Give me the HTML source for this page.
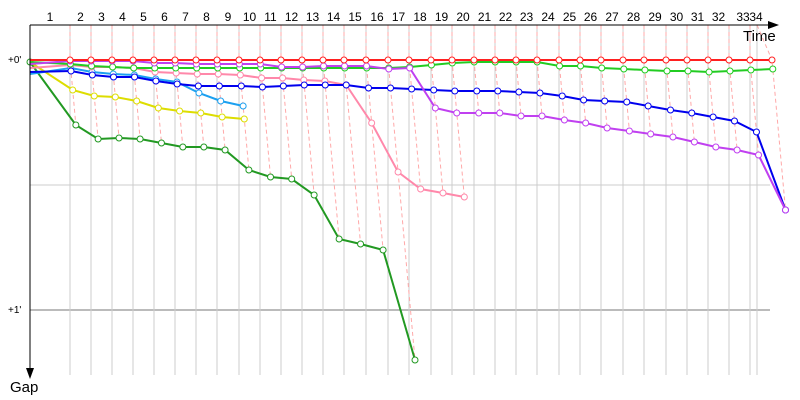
<!DOCTYPE html>
<html><head><meta charset="utf-8"><style>
html,body{margin:0;padding:0;background:#fff;}
svg{display:block;font-family:"Liberation Sans","DejaVu Sans",sans-serif;}
</style></head><body>
<svg id="s" width="800" height="400" xmlns="http://www.w3.org/2000/svg"></svg>
<script>
const s=document.getElementById('s');
let h='';
const gx=[30,70,91,112,133,154,175,196,217,239,260,281,302,323,344,366,388,409,431,452,474,495,516,537,559,580,601,623,644,666,687,708,729,750,757];
h+='<line x1="30" y1="185" x2="770" y2="185" stroke="#ccc"/>';
h+='<line x1="30" y1="60" x2="770" y2="60" stroke="#777"/>';
h+='<line x1="30" y1="310" x2="770" y2="310" stroke="#777"/>';
for(let i=1;i<gx.length;i++){h+=`<line x1="${gx[i]}" y1="25" x2="${gx[i]}" y2="375" stroke="#ccc"/>`;}
for(let i=1;i<=34;i++){
 let cx=(gx[i-1]+gx[i])/2; if(i==33)cx=743; if(i==34)cx=756;
 h+=`<text x="${cx}" y="21" font-size="12" text-anchor="middle">${i}</text>`;
}
h+='<text x="8" y="63" font-size="10">+0\'</text><text x="8" y="313" font-size="10">+1\'</text>';
h+='<text x="743" y="41" font-size="15">Time</text><text x="10" y="392" font-size="15">Gap</text>';
const S={
red:['#ff2020',[60,60,60,60,60,60,60,60,60,60,60,60,60,60,60,60,60,60,60,60,60,60,60,60,60,60,60,60,60,60,60,60,60,60]],
purple:['#c040f0',[64,61,61,61,61,63,63,64,64,64,64,67,67,66,66,66,69,68,108,113,113,113,116,116,120,123,128,131,134,137,142,147,150,155,210]],
green:['#22cc22',[62,64,66,67,68,68,68,68,68,68,68,68,68,68,68,68,68,67,65,63,62,62,62,62,66,66,68,69,70,71,71,72,71,70,69]],
pink:['#ff88aa',[68,65,67,67,68,72,73,74,74,75,78,78,80,81,85,123,172,189,193,197]],
blue:['#0000ee',[72,71,75,77,77,81,84,86,86,86,87,86,85,85,85,88,88,89,90,91,91,91,92,93,96,100,101,102,106,110,113,117,121,132,210]],
lblue:['#1ca0f0',[74,68,72,74,75,79,82,93,101,106]],
yellow:['#dddd00',[62,90,96,97,101,108,111,113,117,119]],
dgreen:['#229922',[62,125,139,138,139,143,147,147,150,170,177,179,195,239,244,250,360]]
};
function px(i,y){ if(i==0)return 30; let x=i>=34?772:gx[i]; return x+(y-60)*0.09; }
S.red[1].push(60);
let lap={};
for(const k in S){S[k][1].forEach((y,i)=>{if(i>0){(lap[i]=lap[i]||[]).push(y);}});}
for(const i in lap){
 const ys=lap[i].sort((a,b)=>a-b);
 let top=i>=34?757:gx[i];
 let pts=[[top,25]].concat(ys.map(y=>[px(+i,y),y]));
 h+=`<polyline points="${pts.map(p=>p.join(',')).join(' ')}" fill="none" stroke="#ffa8a8" stroke-width="1" stroke-dasharray="4,3"/>`;
}
const order=['dgreen','yellow','lblue','pink','blue','green','purple','red'];
for(const k of order){
 const [c,ys]=S[k];
 const pts=ys.map((y,i)=>[px(i,y),y]);
 h+=`<polyline points="${pts.map(p=>p.join(',')).join(' ')}" fill="none" stroke="${c}" stroke-width="2"/>`;
 pts.forEach((p,i)=>{ if(i>0||k=='dgreen') h+=`<circle cx="${p[0]}" cy="${p[1]}" r="3" fill="#fff" stroke="${c}" stroke-width="1"/>`;});
}
h+='<line x1="30" y1="25" x2="770" y2="25" stroke="#000"/><polygon points="768,21 779,25 768,29" fill="#000"/>';
h+='<line x1="30" y1="25" x2="30" y2="370" stroke="#000"/><polygon points="26,368 30,379 34,368" fill="#000"/>';
s.innerHTML=h;
</script>
</body></html>
